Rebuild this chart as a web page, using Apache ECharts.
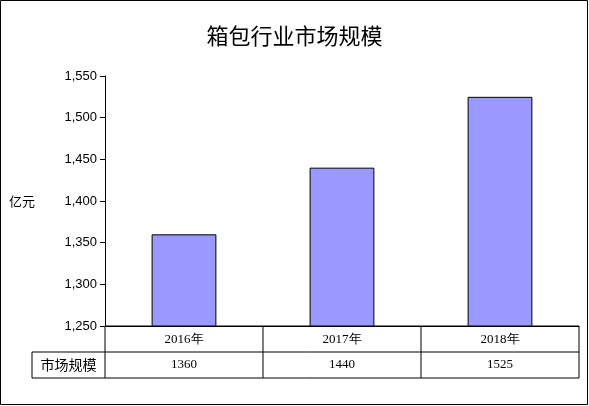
<!DOCTYPE html>
<html><head><meta charset="utf-8">
<script src="https://cdn.jsdelivr.net/npm/echarts@6/dist/echarts.min.js"></script>
<style>html,body{margin:0;padding:0;background:#fff}#c{width:589px;height:406px}</style>
</head><body><div id="c"></div>
<script>
let years = ['2016年', '2017年', '2018年'];
let sizes = [1360, 1440, 1525];
let seriesName = '市场规模';

let chart = echarts.init(document.getElementById('c'));
let L = 105, R = 579, T = 76, B = 326, rowH = 26, tableLeft = 32;

let option = {
    animation: false,
    title: {
        text: '箱包行业市场规模', left: 'center', top: 20,
        textStyle: {fontFamily: 'Noto Sans CJK SC', fontSize: 22, fontWeight: 'normal', color: '#000'}
    },
    grid: {left: L, right: 589 - R, top: T, bottom: 406 - B},
    xAxis: {
        type: 'category', data: years,
        axisLine: {lineStyle: {color: '#000'}},
        axisTick: {show: false},
        axisLabel: {color: '#000', fontFamily: 'Liberation Serif', fontSize: 13, margin: 7}
    },
    yAxis: {
        type: 'value', min: 1250, max: 1550, interval: 50,
        name: '亿元', nameLocation: 'middle', nameRotate: 0, nameGap: 70,
        nameTextStyle: {fontFamily: 'Noto Sans CJK SC', fontSize: 13, color: '#000'},
        axisLine: {show: true, lineStyle: {color: '#000'}},
        axisTick: {show: true, inside: false, length: 5, lineStyle: {color: '#000'}},
        axisLabel: {color: '#000', fontFamily: 'Liberation Sans', fontSize: 13, margin: 8},
        splitLine: {show: false}
    },
    series: [{
        name: seriesName, type: 'bar', data: sizes, barWidth: '41%',
        itemStyle: {color: '#9999FF', borderColor: '#000', borderWidth: 1}
    }]
};
chart.setOption(option);

// 数据表
let g = [];
let line = (x1, y1, x2, y2) => g.push({type: 'line', shape: {x1, y1, x2, y2}, style: {stroke: '#000', lineWidth: 1}});
g.push({type: 'rect', shape: {x: 0.5, y: 0.5, width: 587, height: 404}, style: {fill: 'none', stroke: '#000', lineWidth: 1}});
line(L, B, R, B);
line(tableLeft, B + rowH, R, B + rowH);
line(tableLeft, B + 2 * rowH, R, B + 2 * rowH);
line(tableLeft, B + rowH, tableLeft, B + 2 * rowH);
line(R, B, R, B + 2 * rowH);
let step = (R - L) / years.length;
for (let i = 0; i < years.length; i++) line(L + i * step, B, L + i * step, B + 2 * rowH);
g.push({type: 'text', style: {text: seriesName, x: (tableLeft + L) / 2, y: B + 1.5 * rowH,
    textAlign: 'center', textVerticalAlign: 'middle', font: '14px "Noto Sans CJK SC"', fill: '#000'}});
sizes.forEach((v, i) => {
    let x = chart.convertToPixel({xAxisIndex: 0}, years[i]);
    g.push({type: 'text', style: {text: String(v), x: x, y: B + 1.5 * rowH,
        textAlign: 'center', textVerticalAlign: 'middle', font: '13px "Liberation Serif"', fill: '#000'}});
});
chart.setOption({graphic: g});
</script></body></html>
